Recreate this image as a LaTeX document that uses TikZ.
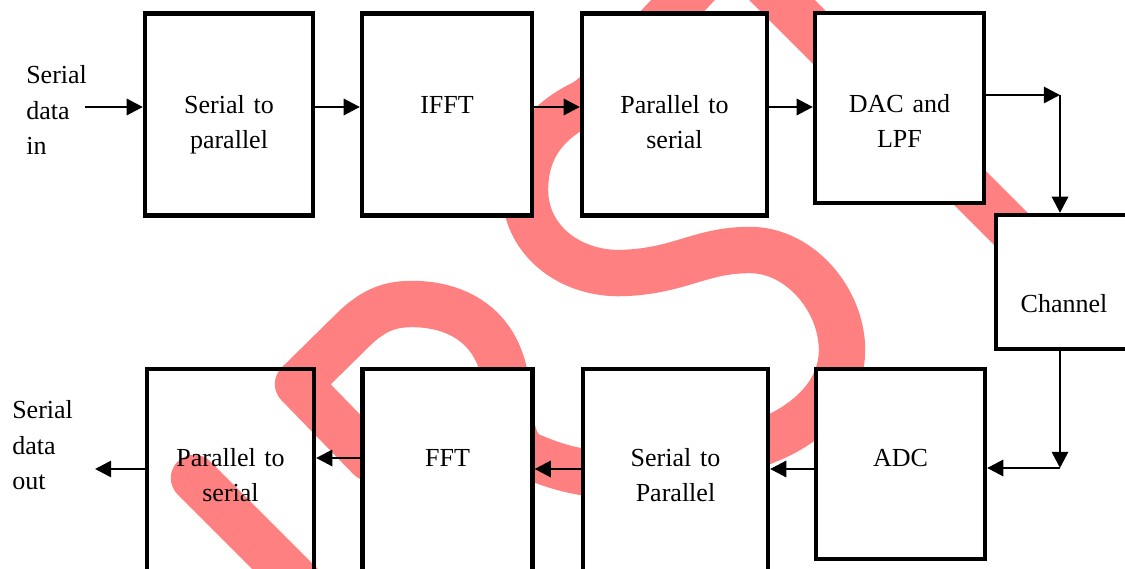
\documentclass[tikz,border=0pt]{standalone}
\usepackage{fontspec}
\setmainfont{Liberation Serif}
\usepackage{xcolor}
\usepackage{tikz}
\usetikzlibrary{arrows.meta,positioning,calc}

\definecolor{scribble}{HTML}{FF8080}

\tikzset{
  blk/.style={draw, line width=3pt, fill=white, inner sep=0pt},
  blkopen/.style={draw, line width=3pt, inner sep=0pt},
  txt/.style={anchor=base, inner sep=0pt, text width=4.4cm, align=center,
    font=\fontsize{18.5}{24.9}\selectfont},
  side/.style={anchor=base west, inner sep=0pt, text width=2cm, align=left,
    font=\fontsize{18.5}{24.9}\selectfont},
  arr/.style={line width=1.9pt, -{Triangle[length=11.5pt,width=11.5pt]}},
  band/.style={draw=scribble, line width=33pt, line cap=round, line join=round}
}

\begin{document}
\begin{tikzpicture}[x=0.025cm, y=-0.025cm]
\useasboundingbox (0,0) rectangle (1125,569);

% Red scribble behind the blocks
\draw[band] (1050,268) -- (731,-51) -- (650,35)
  .. controls (620,67) and (600,95) .. (582,104)
  .. controls (545,122) and (525,150) .. (525,190)
  .. controls (525,240) and (570,275) .. (623,273)
  .. controls (680,271) and (700,250) .. (750,250)
  .. controls (800,250) and (842,300) .. (842,350)
  .. controls (842,395) and (805,425) .. (768,440)
  .. controls (700,468) and (630,480) .. (583,472)
  .. controls (560,468) and (545,462) .. (533,457)
  .. controls (505,450) and (510,395) .. (503,368)
  .. controls (490,320) and (450,304) .. (412,304)
  .. controls (390,304) and (375,310) .. (357,326)
  -- (298,384) -- (370,458);
\draw[band] (194,478) -- (330,614);

% Transmitter row
\node[blk, minimum width=4.2cm, minimum height=5.05cm] (s2p) at (229,114.5) {};
\node[blk, minimum width=4.25cm, minimum height=5.05cm] (ifft) at (447,114.5) {};
\node[blk, minimum width=4.625cm, minimum height=5.05cm] (p2s) at (674.5,114.5) {};
\node[blk, minimum width=4.225cm, minimum height=4.75cm] (dac) at (899.5,108) {};

% Channel
\node[blk, minimum width=3.4cm, minimum height=3.35cm] (chan) at (1064,282) {};

% Receiver row
\node[blk, minimum width=4.225cm, minimum height=4.75cm] (adc) at (900.5,464) {};
\node[blk, minimum width=4.625cm, minimum height=5.05cm] (rs2p) at (675.5,470) {};
\node[blk, minimum width=4.25cm, minimum height=5.05cm] (fft) at (447.5,470) {};
\node[blkopen, minimum width=4.175cm, minimum height=5.05cm] (rp2s) at (230.5,470) {};

% Block texts
\node[txt] (s2ptxt) at ([yshift=-2.55cm]s2p.north) {Serial to\\parallel};
\node[txt] (iffttxt) at ([yshift=-2.55cm]ifft.north) {IFFT};
\node[txt] (p2stxt) at ([yshift=-2.55cm]p2s.north) {Parallel to\\serial};
\node[txt] (dactxt) at ([yshift=-2.55cm]dac.north) {DAC and\\LPF};
\node[txt] (chantxt) at ([yshift=-2.5cm]chan.north) {Channel};
\node[txt] (adctxt) at ([yshift=-2.5cm]adc.north) {ADC};
\node[txt] (rs2ptxt) at ([yshift=-2.5cm]rs2p.north) {Serial to\\Parallel};
\node[txt] (ffttxt) at ([yshift=-2.5cm]fft.north) {FFT};
\node[txt] (rp2stxt) at ([yshift=-2.5cm]rp2s.north) {Parallel to\\serial};

% Input and output
\node[side] (datain) at (26,84) {Serial\\data\\in};
\node[side] (dataout) at (12,419) {Serial\\data\\out};

% Arrows
\coordinate (ina) at (85,107);
\coordinate (c1) at (1060,95);
\coordinate (c2) at (1060,468);
\coordinate (rowb) at (0,469);
\coordinate (rowc) at (0,458);
\coordinate (outa) at (95,469);

\draw[arr] (ina) -- (ina -| s2p.west);
\draw[arr] (s2p.east |- ina) -- (ifft.west |- ina);
\draw[arr] (ifft.east |- ina) -- (p2s.west |- ina);
\draw[arr] (p2s.east |- ina) -- (dac.west |- ina);
\draw[arr] (dac.east |- c1) -- (c1);
\draw[arr] (c1) -- (chan.north -| c1);
\draw[arr] (chan.south -| c2) -- (c2);
\draw[arr] (c2) -- (adc.east |- c2);
\draw[arr] (adc.west |- rowb) -- (rs2p.east |- rowb);
\draw[arr] (rs2p.west |- rowb) -- (fft.east |- rowb);
\draw[arr] (fft.west |- rowc) -- (rp2s.east |- rowc);
\draw[arr] (rp2s.west |- outa) -- (outa);

\end{tikzpicture}
\end{document}
